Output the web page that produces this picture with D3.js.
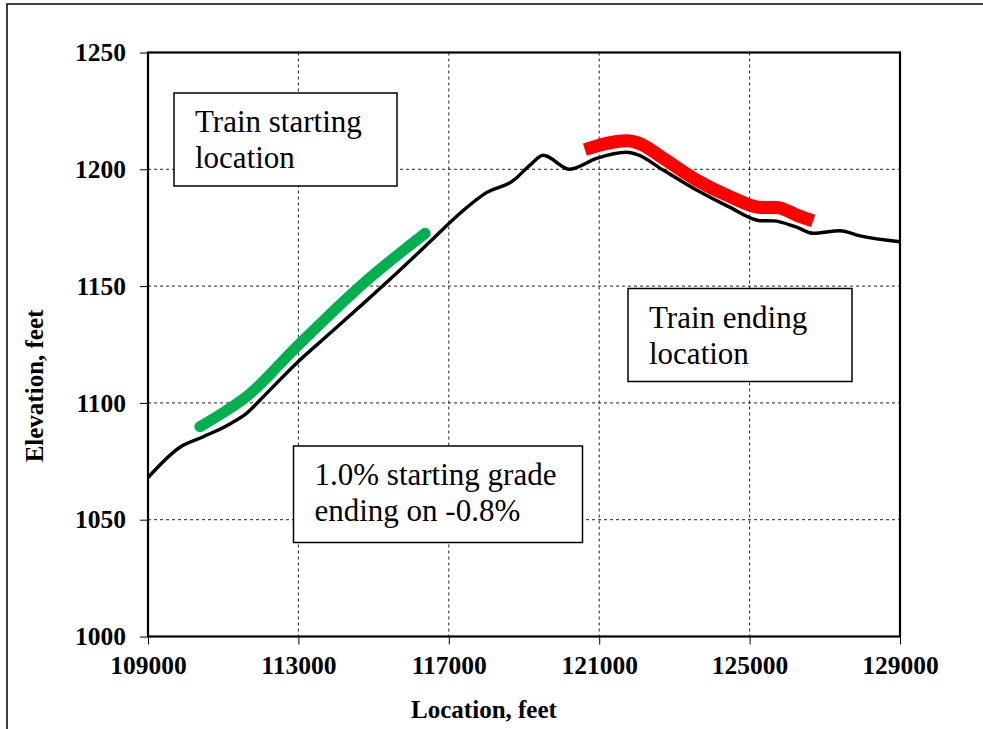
<!DOCTYPE html>
<html>
<head>
<meta charset="utf-8">
<script src="https://cdn.jsdelivr.net/npm/d3@7"></script>
<style>
  html, body { margin: 0; padding: 0; background: #fff; }
  svg { display: block; }
  text { font-family: "Liberation Serif", "Times New Roman", serif; }
</style>
</head>
<body>
<svg id="chart" width="983" height="729"></svg>
<script>
// Track elevation profile (location in feet, elevation in feet)
const profileLoc  = [109000, 109850, 110470, 111180, 111620, 112070, 112950, 113840, 114730, 115610, 116500, 117300, 118000, 118700, 119160, 119510, 120220, 120930, 121730, 122000, 122700, 123590, 124480, 125280, 125630, 126250, 126690, 127400, 127940, 129000];
const profileElev = [1068, 1081, 1085.5, 1091, 1095.5, 1102.7, 1117, 1129.8, 1142.6, 1155.5, 1169, 1181.2, 1190, 1195, 1201.8, 1206, 1200, 1204.7, 1207.3, 1206.4, 1199.7, 1191.1, 1183.7, 1178, 1177.9, 1175.2, 1172.6, 1173.7, 1171.5, 1169];

// Train position at start (green) and at the end (red)
const startLoc  = [110380, 111180, 111620, 112950, 114730, 116370];
const startElev = [1089.8, 1097.7, 1102.7, 1124, 1151.2, 1172.6];
const endLoc    = [120620, 121730, 122080, 122700, 123590, 124480, 125280, 125720, 126250, 126690];
const endElev   = [1208.4, 1212.2, 1211, 1204.7, 1195.4, 1188.3, 1183.7, 1183.7, 1180.4, 1177.9];

const xTicks = [109000, 113000, 117000, 121000, 125000, 129000];
const yTicks = [1000, 1050, 1100, 1150, 1200, 1250];

const notes = [
  { lines: ["Train starting", "location"], box: [174, 93, 223, 93] },
  { lines: ["Train ending", "location"], box: [628, 288.5, 224, 93] },
  { lines: ["1.0% starting grade", "ending on -0.8%"], box: [293.5, 446, 289, 96.5] }
];

const svg = d3.select("#chart");
const plot = { left: 148, right: 900, top: 52.5, bottom: 636.5 };

// outer frame
svg.append("path")
  .attr("d", "M7,735 L7,4 L990,4")
  .attr("fill", "none").attr("stroke", "#000").attr("stroke-width", 1.5);

const x = d3.scaleLinear().domain([109000, 129000]).range([plot.left, plot.right]);
const y = d3.scaleLinear().domain([1000, 1250]).range([plot.bottom, plot.top]);

// gridlines
const grid = svg.append("g").attr("stroke", "#222").attr("stroke-width", 1).attr("stroke-dasharray", "3,3");
grid.selectAll("line.gx").data(xTicks.slice(1, -1)).join("line")
  .attr("x1", d => x(d)).attr("x2", d => x(d))
  .attr("y1", plot.top).attr("y2", plot.bottom);
grid.selectAll("line.gy").data(yTicks.slice(1, -1)).join("line")
  .attr("x1", plot.left).attr("x2", plot.right)
  .attr("y1", d => y(d)).attr("y2", d => y(d));

// axes
const xAxis = d3.axisBottom(x).tickValues(xTicks).tickSize(8).tickSizeOuter(0).tickFormat(d3.format("d")).tickPadding(11);
const yAxis = d3.axisLeft(y).tickValues(yTicks).tickSize(8).tickSizeOuter(0).tickFormat(d3.format("d")).tickPadding(14);

const gx = svg.append("g").attr("transform", `translate(0,${plot.bottom})`).call(xAxis);
const gy = svg.append("g").attr("transform", `translate(${plot.left},0)`).call(yAxis);
[gx, gy].forEach(g => {
  g.select(".domain").remove();
  g.selectAll(".tick line").attr("stroke", "#000").attr("stroke-width", 1);
  g.selectAll(".tick text")
    .attr("fill", "#000")
    .style("font-family", "'Liberation Serif', 'Times New Roman', serif")
    .style("font-size", "25.5px").style("font-weight", "bold");
});
gx.selectAll(".tick text").attr("dy", "0.71em");

// plot frame
svg.append("rect")
  .attr("x", plot.left).attr("y", plot.top)
  .attr("width", plot.right - plot.left).attr("height", plot.bottom - plot.top)
  .attr("fill", "none").attr("stroke", "#000").attr("stroke-width", 2.2);

// lines
const line = d3.line().x(d => x(d[0])).y(d => y(d[1])).curve(d3.curveMonotoneX);

svg.append("path")
  .datum(profileLoc.map((d, i) => [d, profileElev[i]]))
  .attr("d", line).attr("fill", "none").attr("stroke", "#000")
  .attr("stroke-width", 3.4).attr("stroke-linejoin", "round");

svg.append("path")
  .datum(startLoc.map((d, i) => [d, startElev[i]]))
  .attr("d", line).attr("fill", "none").attr("stroke", "#00B050")
  .attr("stroke-width", 11).attr("stroke-linecap", "round").attr("stroke-linejoin", "round");

svg.append("path")
  .datum(endLoc.map((d, i) => [d, endElev[i]]))
  .attr("d", line).attr("fill", "none").attr("stroke", "#FF0000")
  .attr("stroke-width", 13).attr("stroke-linecap", "butt").attr("stroke-linejoin", "round");

// annotation boxes
notes.forEach(n => {
  const [bx, by, bw, bh] = n.box;
  const g = svg.append("g");
  g.append("rect").attr("x", bx).attr("y", by).attr("width", bw).attr("height", bh)
    .attr("fill", "#fff").attr("stroke", "#000").attr("stroke-width", 1.5);
  n.lines.forEach((t, i) => {
    g.append("text").attr("x", bx + 21).attr("y", by + 39 + i * 36)
      .style("font-size", "31px").attr("fill", "#000").text(t);
  });
});

// axis titles
svg.append("text")
  .attr("x", 484).attr("y", 718)
  .attr("text-anchor", "middle")
  .style("font-size", "25px").style("font-weight", "bold")
  .text("Location, feet");

svg.append("text")
  .attr("transform", "translate(43,386) rotate(-90)")
  .attr("text-anchor", "middle")
  .style("font-size", "25px").style("font-weight", "bold")
  .text("Elevation, feet");
</script>
</body>
</html>
